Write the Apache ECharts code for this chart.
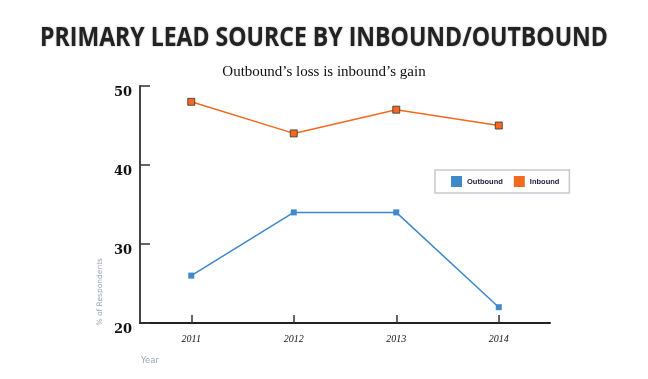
<!DOCTYPE html>
<html><head><meta charset="utf-8">
<script src="https://cdn.jsdelivr.net/npm/echarts@6/dist/echarts.min.js"></script>
<style>html,body{margin:0;padding:0;background:#fff}#c{width:648px;height:379px}</style>
</head><body><div id="c"></div>
<script>
const years = ['2011','2012','2013','2014'];
const outbound = [26, 34, 34, 22];
const inbound = [48, 44, 47, 45];
const yTicks = [20, 30, 40, 50];

const chart = echarts.init(document.getElementById('c'));
chart.setOption({
  animation: false,
  backgroundColor: '#fff',
  title: [{
    text: 'Outbound\u2019s loss is inbound\u2019s gain',
    left: 'center', top: 60,
    textStyle: {fontFamily: 'Liberation Serif', fontWeight: 'normal', fontSize: 15, color: '#111'}
  }],
  legend: {
    left: 435, top: 170,
    padding: [6, 10, 6, 16],
    borderColor: '#c8c8d0', borderWidth: 1.5,
    icon: 'rect', itemWidth: 11, itemHeight: 11, itemGap: 11,
    itemStyle: {borderWidth: 0},
    textStyle: {fontFamily: 'Liberation Sans', fontSize: 7.5, fontWeight: 'bold', color: '#1a1a3a'},
    data: ['Outbound', 'Inbound']
  },
  grid: {left: 140, right: 98, top: 86, bottom: 56},
  xAxis: {
    type: 'category', data: years, boundaryGap: true,
    axisLine: {lineStyle: {color: '#222', width: 2}},
    axisTick: {show: true, alignWithLabel: true, inside: true, length: 8, lineStyle: {color: '#333', width: 1.5}},
    axisLabel: {fontFamily: 'Liberation Serif', fontStyle: 'italic', fontSize: 10, color: '#111', margin: 11}
  },
  yAxis: {
    type: 'value', min: yTicks[0], max: yTicks[yTicks.length - 1], interval: 10,
    splitLine: {show: false},
    axisLine: {show: true, lineStyle: {color: '#444', width: 2}},
    axisTick: {show: true, inside: true, length: 10, lineStyle: {color: '#333', width: 1.5}},
    axisLabel: {fontFamily: 'DejaVu Serif', fontWeight: 'bold', fontSize: 13, color: '#111', margin: 8,
      verticalAlign: 'top'}
  },
  graphic: [{
    type: 'text', x: 324, y: 38, scaleX: 0.87,
    style: {text: 'PRIMARY LEAD SOURCE BY INBOUND/OUTBOUND', x: 0, y: 0,
      textAlign: 'center', textVerticalAlign: 'middle',
      fill: '#222', fontFamily: 'Open Sans', fontWeight: 'bold', fontSize: 26.5,
      textShadowColor: 'rgba(0,0,0,0.35)', textShadowBlur: 2}
  }, {
    type: 'text', left: 96, top: 258, rotation: Math.PI / 2,
    style: {text: '% of Respondents', fill: '#9aa3b5', fontFamily: 'DejaVu Sans', fontSize: 7.5}
  }, {
    type: 'text', left: 141, top: 356,
    style: {text: 'Year', fill: '#9aa3b5', fontFamily: 'DejaVu Sans', fontSize: 8.5}
  }],
  series: [{
    name: 'Outbound', type: 'line', data: outbound,
    symbol: 'rect', symbolSize: 6,
    lineStyle: {color: '#3f88c9', width: 1.5},
    itemStyle: {color: '#3f88c9'}
  }, {
    name: 'Inbound', type: 'line', data: inbound,
    symbol: 'rect', symbolSize: 7,
    lineStyle: {color: '#f26a1e', width: 1.5},
    itemStyle: {color: '#f26a1e', borderColor: '#333', borderWidth: 0.8}
  }]
});
</script></body></html>
